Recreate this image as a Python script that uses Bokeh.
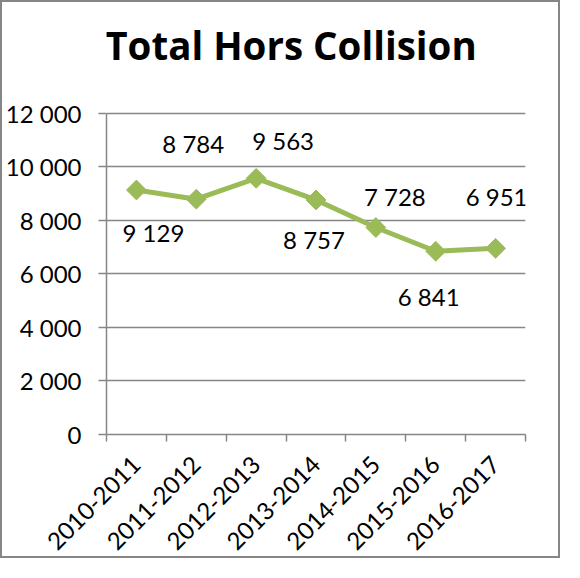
import math
from bokeh.plotting import figure
from bokeh.models import (ColumnDataSource, Range1d, FixedTicker, LabelSet, Label)
from bokeh.core.properties import value
from bokeh.embed import file_html
from bokeh.resources import INLINE

# ---- data ----
categories = ["2010-2011", "2011-2012", "2012-2013", "2013-2014",
              "2014-2015", "2015-2016", "2016-2017"]
values = [9129, 8784, 9563, 8757, 7728, 6841, 6951]
y_ticks = [0, 2000, 4000, 6000, 8000, 10000, 12000]
y_tick_labels = ["0", "2 000", "4 000", "6 000", "8 000", "10 000", "12 000"]
title_text = "Total Hors Collision"

# ---- layout / style (pixel offsets of the manually placed data labels) ----
label_dx = [17, -3, 27, -2, 19, -7, 1]
label_dy = [-52, 46, 28, -49, 22, -55, 42]

FONT = "Lato"
TITLE_FONT = "Open Sans"
GRAY = "#868686"
GREEN = "#9BBB59"

B = 2                      # css border width
W, H = 564 - 2 * B, 562 - 2 * B
FRAME_LEFT = 104 - B       # canvas px
FRAME_W = 421
AXIS_Y = 438 - B           # canvas px of value 0
PX_PER_UNIT = (438.3 - 113.9) / 12000.0
y_top = AXIS_Y / PX_PER_UNIT   # frame extends up to the canvas top

n = len(categories)
xs = [i + 0.5 for i in range(n)]
labels = [f"{v:,}".replace(",", " ") for v in values]

src = ColumnDataSource(dict(x=xs, y=values, label=labels,
                            dx=label_dx, dy=label_dy, cat=categories))

p = figure(width=W, height=H, output_backend="svg", toolbar_location=None,
           x_range=Range1d(0, n), y_range=Range1d(0, y_top),
           min_border_left=FRAME_LEFT, min_border_right=W - FRAME_LEFT - FRAME_W,
           min_border_top=0, min_border_bottom=H - AXIS_Y,
           background_fill_color="white", border_fill_color="white")
p.outline_line_color = None
p.styles = {"border": f"{B}px solid {GRAY}"}

# grid
p.xgrid.grid_line_color = None
p.ygrid.ticker = FixedTicker(ticks=y_ticks)
p.ygrid.grid_line_color = GRAY
p.ygrid.grid_line_width = 1.5

# y axis
yax = p.yaxis[0]
yax.ticker = FixedTicker(ticks=y_ticks)
yax.bounds = (y_ticks[0], y_ticks[-1])
yax.major_label_overrides = {t: l for t, l in zip(y_ticks, y_tick_labels)}
yax.axis_line_color = GRAY
yax.axis_line_width = 1.5
yax.major_tick_line_color = GRAY
yax.major_tick_line_width = 1.5
yax.major_tick_out = 8
yax.major_tick_in = 0
yax.minor_tick_line_color = None
yax.major_label_standoff = 17
yax.major_label_text_font = FONT
yax.major_label_text_font_size = "24px"
yax.major_label_text_color = "black"

# x axis
xax = p.xaxis[0]
xax.ticker = FixedTicker(ticks=xs, minor_ticks=list(range(n + 1)))
xax.major_label_overrides = {x: c for x, c in zip(xs, categories)}
xax.axis_line_color = GRAY
xax.axis_line_width = 1.5
xax.major_tick_line_color = None
xax.minor_tick_line_color = GRAY
xax.minor_tick_line_width = 1.5
xax.minor_tick_out = 7
xax.minor_tick_in = 0
xax.major_label_orientation = math.pi / 4
xax.major_label_standoff = 19
xax.major_label_text_font = FONT
xax.major_label_text_font_size = "24px"
xax.major_label_text_color = "black"

# line + diamond markers
p.line("x", "y", source=src, line_color=GREEN, line_width=5)
p.scatter("x", "y", source=src, marker="square", angle=math.pi / 4,
          size=14, fill_color=GREEN, line_color=GREEN)

# data labels
p.add_layout(LabelSet(x="x", y="y", text="label", source=src,
                      x_offset="dx", y_offset="dy",
                      text_align="center", text_baseline="alphabetic",
                      text_font=value(FONT), text_font_size=value("24px"),
                      text_color="black"))

# title
p.add_layout(Label(x=n / 2, y=y_ticks[-1], x_offset=-25, y_offset=68,
                   text=title_text, text_align="center",
                   text_baseline="alphabetic", text_font=TITLE_FONT,
                   text_font_style="bold", text_font_size="38.5px",
                   text_color="black"))

open("out.html", "w").write(file_html(p, INLINE))
